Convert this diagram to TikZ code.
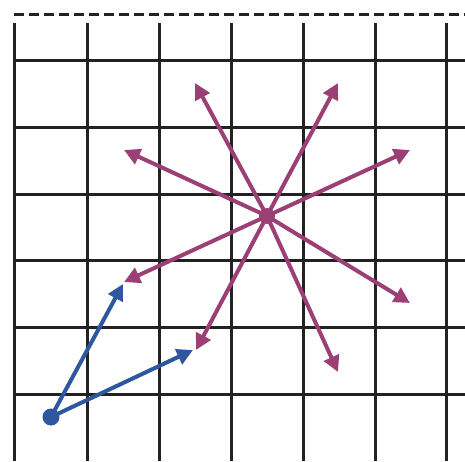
\documentclass[tikz,border=0pt]{standalone}
\usetikzlibrary{arrows.meta}

\definecolor{gridblack}{HTML}{222222}
\definecolor{vecblue}{HTML}{2E57A0}
\definecolor{vecpurple}{HTML}{9B3F75}

\begin{document}
\begin{tikzpicture}[
  x=1pt, y=-1pt,
  gridline/.style={gridblack, line width=3pt},
  topdash/.style={gridblack, line width=3pt, dash pattern=on 10pt off 5pt},
  vec/.style={line width=4pt, -{Triangle[length=16pt, width=16pt]}},
  bluevec/.style={vec, vecblue},
  purplevec/.style={vec, vecpurple},
]
\useasboundingbox (0,0) rectangle (465,461);

% grid
\foreach \x in {14,87,159,231,303,375,446}
  \draw[gridline] (\x,23) -- (\x,461);
\foreach \y in {60,127,194,260,327,394}
  \draw[gridline] (14,\y) -- (465,\y);
\draw[topdash] (14,14) -- (465,14);

% blue vectors
\coordinate (start) at (51,417);
\coordinate (b1) at (123,284);
\coordinate (b2) at (193,350);
\draw[bluevec] (start) -- (b1);
\draw[bluevec] (start) -- (b2);
\fill[vecblue] (start) circle (8.5pt);

% purple vectors
\coordinate (hub) at (267,216);
\foreach \px/\py [count=\i] in {195/83, 338/83, 124/150, 410/150,
                                 124/282, 410/303, 196/350, 338/372} {
  \coordinate (p\i) at (\px,\py);
  \draw[purplevec] (hub) -- (p\i);
}
\fill[vecpurple] (hub) circle (8pt);
\end{tikzpicture}
\end{document}
